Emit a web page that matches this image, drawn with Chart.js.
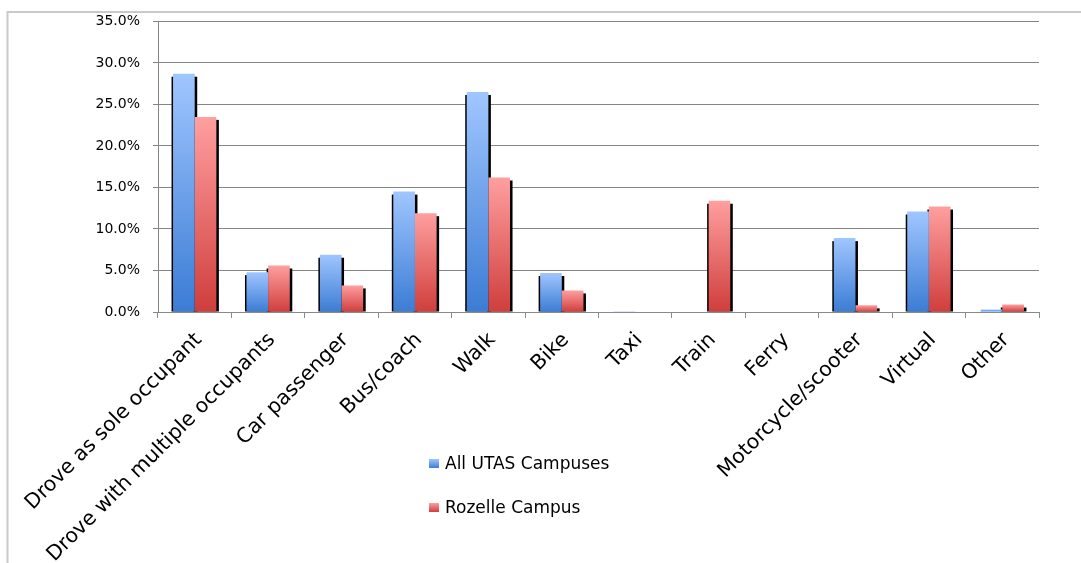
<!DOCTYPE html>
<html>
<head>
<meta charset="utf-8">
<script src="https://cdn.jsdelivr.net/npm/chart.js@4/dist/chart.umd.min.js"></script>
<style>
  html, body { margin: 0; padding: 0; background: #fff; }
  #wrap { position: relative; width: 1081px; height: 563px; overflow: hidden; }
  #c { position: absolute; left: 0; top: 0; }
  #legend { position: absolute; left: 0; top: 0; font-family: "DejaVu Sans", sans-serif; font-size: 17px; color: #000; }
  .item { position: absolute; left: 429px; height: 22px; line-height: 22px; white-space: nowrap; display: flex; align-items: center; }
  .sw { width: 10px; height: 9px; margin-right: 6px; }
</style>
</head>
<body>
<div id="wrap">
  <canvas id="c" width="1081" height="563"></canvas>
  <div id="legend"></div>
</div>
<script>
// Travel mode shares (%)
const categories = [
  'Drove as sole occupant', 'Drove with multiple occupants', 'Car passenger',
  'Bus/coach', 'Walk', 'Bike', 'Taxi', 'Train', 'Ferry',
  'Motorcycle/scooter', 'Virtual', 'Other'
];
const allCampuses = [28.7, 4.8, 6.9, 14.5, 26.5, 4.7, 0.1, 0, 0, 8.9, 12.1, 0.3];
const rozelleCampus = [23.5, 5.6, 3.2, 11.9, 16.2, 2.6, 0, 13.4, 0, 0.8, 12.7, 0.9];
const seriesNames = ['All UTAS Campuses', 'Rozelle Campus'];
const yTickValues = [0, 5, 10, 15, 20, 25, 30, 35];

const FONT = 'DejaVu Sans';
const blueStops = ['#a0c6ff', '#3b7cd4'];
const redStops = ['#ff9f9f', '#cf3e3c'];

// Vertical gradient per bar: light at the top, deep at the base
function barFill(stops) {
  return (ctx) => {
    const chart = ctx.chart;
    const ys = chart.scales && chart.scales.y;
    if (ctx.type !== 'data' || !ys || !chart.chartArea) return stops[1];
    const base = ys.getPixelForValue(0);
    const top = ys.getPixelForValue(ctx.raw);
    if (!isFinite(top) || !isFinite(base) || base - top < 0.5) return stops[1];
    const g = chart.ctx.createLinearGradient(0, top, 0, base);
    g.addColorStop(0, stops[0]);
    g.addColorStop(1, stops[1]);
    return g;
  };
}

// Outer frame lines and the dark drop shadow behind every bar
const decor = {
  id: 'decor',
  beforeDraw(chart) {
    const c = chart.ctx;
    c.save();
    c.strokeStyle = '#c9c9c9';
    c.lineWidth = 2;
    c.beginPath();
    c.moveTo(7.5, chart.height);
    c.lineTo(7.5, 12);
    c.lineTo(chart.width, 12);
    c.stroke();
    c.restore();
  },
  beforeDatasetsDraw(chart) {
    const c = chart.ctx;
    c.save();
    c.fillStyle = '#000';
    chart.data.datasets.forEach((ds, i) => {
      const meta = chart.getDatasetMeta(i);
      meta.data.forEach((bar) => {
        const p = bar.getProps(['x', 'y', 'base', 'width'], true);
        const h = p.base - (p.y + 3);
        if (h <= 0) return;
        c.fillRect(p.x - p.width / 2 - 1.5, p.y + 3, p.width + 4, h);
      });
    });
    c.restore();
  }
};

const chart = new Chart(document.getElementById('c'), {
  type: 'bar',
  data: {
    labels: categories,
    datasets: [
      { label: seriesNames[0], data: allCampuses, backgroundColor: barFill(blueStops), swatch: blueStops },
      { label: seriesNames[1], data: rozelleCampus, backgroundColor: barFill(redStops), swatch: redStops }
    ]
  },
  options: {
    responsive: false,
    animation: false,
    events: [],
    layout: { padding: { top: 21, right: 42, left: 0, bottom: 0 } },
    datasets: { bar: { categoryPercentage: 0.59, barPercentage: 1.0, borderWidth: 0 } },
    plugins: { legend: { display: false }, title: { display: false }, tooltip: { enabled: false } },
    scales: {
      x: {
        afterFit(s) { s.height = 251; },
        grid: { offset: true, drawOnChartArea: false, drawTicks: true, tickLength: 6, color: '#8a8a8a', lineWidth: 1 },
        border: { display: true, color: '#8a8a8a', width: 1 },
        ticks: {
          autoSkip: false, maxRotation: 45, minRotation: 45, padding: 10, labelOffset: 4,
          color: '#000', font: { family: FONT, size: 20.5 }
        }
      },
      y: {
        min: yTickValues[0],
        max: yTickValues[yTickValues.length - 1],
        afterFit(s) { s.width = 158; },
        afterBuildTicks(s) { s.ticks = yTickValues.map(v => ({ value: v })); },
        grid: { color: '#858585', lineWidth: 1, tickLength: 5, drawTicks: true },
        border: { display: true, color: '#858585', width: 1 },
        ticks: {
          padding: 13, color: '#000', font: { family: FONT, size: 14 },
          callback: (v) => Number(v).toFixed(1) + '%'
        }
      }
    }
  },
  plugins: [decor]
});

// Legend stacked in the space between the rotated category labels
const legend = document.getElementById('legend');
const legendTops = [452, 496];
chart.data.datasets.forEach((ds, i) => {
  const item = document.createElement('div');
  item.className = 'item';
  item.style.top = legendTops[i] + 'px';
  const sw = document.createElement('span');
  sw.className = 'sw';
  sw.style.background = 'linear-gradient(' + ds.swatch[0] + ',' + ds.swatch[1] + ')';
  const tx = document.createElement('span');
  tx.textContent = ds.label;
  item.appendChild(sw);
  item.appendChild(tx);
  legend.appendChild(item);
});
</script>
</body>
</html>
